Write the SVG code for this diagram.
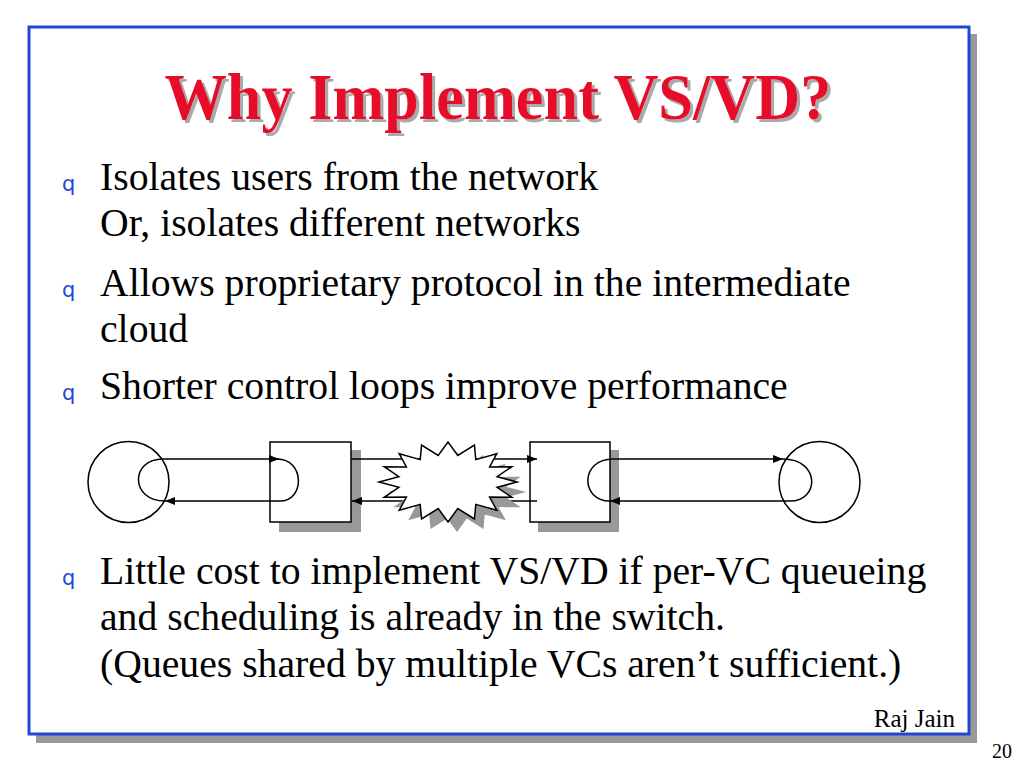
<svg xmlns="http://www.w3.org/2000/svg" width="1024" height="768" viewBox="0 0 1024 768">
<style>
.body{font-family:"Liberation Serif","Times New Roman",serif;font-size:39.7px;fill:#000}
.bul{font-family:"DejaVu Sans","Liberation Sans",sans-serif;font-size:21px;fill:#2046d6}
.ttl{font-family:"Liberation Serif","Times New Roman",serif;font-size:66px;font-weight:bold}
.ln{fill:none;stroke:#000;stroke-width:1.5}
.shd{fill:#999}
.box{fill:#fff;stroke:#000;stroke-width:1.5}
</style>
<defs>
<marker id="ah" viewBox="0 0 10 8" refX="10" refY="4" markerWidth="11" markerHeight="8" markerUnits="userSpaceOnUse" orient="auto">
<path d="M0 0 L10 4 L0 8 z" fill="#000"/>
</marker>
<filter id="tshadow" x="-5%" y="-20%" width="110%" height="140%">
<feOffset in="SourceAlpha" dx="3" dy="3" result="off"/>
<feFlood flood-color="#aaaaaa"/>
<feComposite in2="off" operator="in" result="sh"/>
<feMerge><feMergeNode in="sh"/><feMergeNode in="SourceGraphic"/></feMerge>
</filter>
<polygon id="star" points="517,482 497.1,487.3 511.8,497.3 489.6,497 496.8,510.3 475.8,504.4 474.4,519 457.8,508.5 448,522 438.2,508.5 421.6,519 420.2,504.4 399.2,510.3 406.4,497 384.2,497.3 398.9,487.3 379,482 398.9,476.7 384.2,466.7 406.4,467 399.2,453.7 420.2,459.6 421.6,445 438.2,455.5 448,442 457.8,455.5 474.4,445 475.8,459.6 496.8,453.7 489.6,467 511.8,466.7 497.1,476.7"/>
</defs>
<rect width="1024" height="768" fill="#fff"/>
<g id="frame">
<rect x="36" y="34" width="941" height="709" fill="#999"/>
<rect x="29" y="27" width="940" height="707" fill="#fff" stroke="#2046d6" stroke-width="3"/>
</g>
<g id="title">
<text class="ttl" x="498" y="119" text-anchor="middle" fill="#e6112b" filter="url(#tshadow)" textLength="667" lengthAdjust="spacingAndGlyphs">Why Implement VS/VD?</text>
</g>
<g id="bullets">
<text class="bul" x="62" y="191">q</text>
<text class="body" x="100" y="190">Isolates users from the network</text>
<text class="body" x="100" y="236">Or, isolates different networks</text>
<text class="bul" x="62" y="297">q</text>
<text class="body" x="100" y="296">Allows proprietary protocol in the intermediate</text>
<text class="body" x="100" y="342">cloud</text>
<text class="bul" x="62" y="400">q</text>
<text class="body" x="100" y="399">Shorter control loops improve performance</text>
<text class="bul" x="62" y="585">q</text>
<text class="body" x="100" y="584">Little cost to implement VS/VD if per-VC queueing</text>
<text class="body" x="100" y="630">and scheduling is already in the switch.</text>
<text class="body" x="100" y="677">(Queues shared by multiple VCs aren’t sufficient.)</text>
</g>
<g id="source1"><circle cx="128.5" cy="482" r="40.5" class="ln"/></g>
<g id="switch1">
<rect x="279" y="450" width="82" height="82" class="shd"/>
<rect x="270" y="442" width="81" height="80" class="box"/>
</g>
<g id="switch2">
<rect x="538" y="450" width="81" height="82" class="shd"/>
<rect x="530" y="442" width="80" height="80" class="box"/>
</g>
<g id="dest"><circle cx="819.5" cy="482" r="40.5" class="ln"/></g>
<g id="connectors">
<path class="ln" d="M165 501 C130 501 130 459 163 459"/>
<path class="ln" d="M163 459 L279 459" marker-end="url(#ah)"/>
<path class="ln" d="M277 459 C305 459 305 501 280 501 L165 501" marker-end="url(#ah)"/>
<path class="ln" d="M351 459 L537 459" marker-end="url(#ah)"/>
<path class="ln" d="M537 501 L352 501" marker-end="url(#ah)"/>
<path class="ln" d="M610 501 C580 501 580 459 613 459 L783 459" marker-end="url(#ah)"/>
<path class="ln" d="M783 459 C820 459 820 501 790 501 L610 501" marker-end="url(#ah)"/>
</g>
<g id="cloud">
<use href="#star" transform="translate(9,10)" fill="#999"/>
<use href="#star" fill="#fff" stroke="#000" stroke-width="1.5" stroke-linejoin="miter"/>
</g>
<g id="footer">
<text x="955" y="727" text-anchor="end" font-family="Liberation Serif, Times New Roman, serif" font-size="25">Raj Jain</text>
<text x="1012" y="758" text-anchor="end" font-family="Liberation Serif, Times New Roman, serif" font-size="20">20</text>
</g>
</svg>
